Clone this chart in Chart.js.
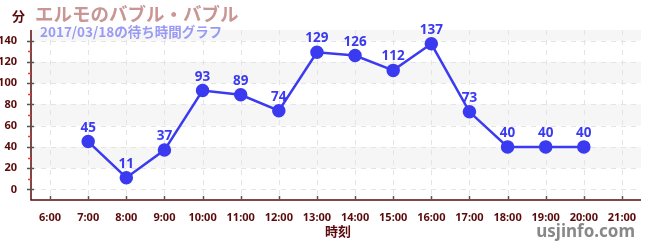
<!DOCTYPE html>
<html>
<head>
<meta charset="utf-8">
<script src="https://cdn.jsdelivr.net/npm/chart.js@4"></script>
<style>
  html, body { margin: 0; padding: 0; background: #fff; }
  #wrap { width: 650px; height: 250px; position: relative; }
</style>
</head>
<body>
<div id="wrap"><canvas id="waitChart"></canvas></div>
<script>
// データ
const HOURS   = [7, 8, 9, 10, 11, 12, 13, 14, 15, 16, 17, 18, 19, 20];
const WAITS   = [45, 11, 37, 93, 89, 74, 129, 126, 112, 137, 73, 40, 40, 40];
const X_TICKS = [6, 7, 8, 9, 10, 11, 12, 13, 14, 15, 16, 17, 18, 19, 20, 21];
const Y_TICKS = [0, 20, 40, 60, 80, 100, 120, 140];
const BANDS   = [[20, 40], [60, 80], [100, 120], [140, 150]];

const TITLE    = 'エルモのバブル・バブル';
const SUBTITLE = '2017/03/18の待ち時間グラフ';
const AXIS_COLOR = '#5a0a0a';
const LINE_COLOR = '#3a3af0';
const JP_FONT = "'Noto Sans CJK JP', 'Noto Sans', sans-serif";

// 背景の帯・目盛り・ラベル類
const decor = {
  id: 'decor',
  beforeDatasetsDraw(chart) {
    const { ctx, chartArea: a, scales: { x, y } } = chart;
    ctx.save();
    ctx.fillStyle = '#f6f6f6';
    BANDS.forEach(([lo, hi]) => {
      const y1 = y.getPixelForValue(hi), y2 = y.getPixelForValue(lo);
      ctx.fillRect(a.left, y1, a.right - a.left, y2 - y1);
    });
    // グリッド(点線)
    ctx.strokeStyle = '#e4e4e4';
    ctx.lineWidth = 1;
    ctx.setLineDash([5, 5]);
    X_TICKS.forEach(v => {
      const px = Math.round(x.getPixelForValue(v)) + 0.5;
      ctx.beginPath(); ctx.moveTo(px, a.top); ctx.lineTo(px, a.bottom); ctx.stroke();
    });
    Y_TICKS.forEach(v => {
      const py = Math.round(y.getPixelForValue(v)) + 0.5;
      ctx.beginPath(); ctx.moveTo(a.left, py); ctx.lineTo(a.right, py); ctx.stroke();
    });
    ctx.setLineDash([]);
    ctx.restore();
  },
  afterDatasetsDraw(chart) {
    const { ctx, chartArea: a, scales: { x, y } } = chart;
    ctx.save();
    // 軸線
    ctx.strokeStyle = AXIS_COLOR;
    ctx.lineWidth = 1.5;
    ctx.beginPath();
    ctx.moveTo(a.left, a.top); ctx.lineTo(a.left, a.bottom); ctx.lineTo(a.right, a.bottom);
    ctx.stroke();
    // 目盛り
    ctx.lineWidth = 1.5;
    ctx.strokeStyle = '#555';
    Y_TICKS.forEach(v => {
      const py = Math.round(y.getPixelForValue(v)) + 0.5;
      ctx.beginPath(); ctx.moveTo(a.left - 4, py); ctx.lineTo(a.left + 3, py); ctx.stroke();
    });
    ctx.strokeStyle = '#ee3333';
    for (let v = 10; v <= 140; v += 20) {
      const py = Math.round(y.getPixelForValue(v)) + 0.5;
      ctx.beginPath(); ctx.moveTo(a.left - 3, py); ctx.lineTo(a.left, py); ctx.stroke();
    }
    ctx.strokeStyle = '#555';
    X_TICKS.forEach(v => {
      const px = Math.round(x.getPixelForValue(v)) + 0.5;
      ctx.beginPath(); ctx.moveTo(px, a.bottom - 4); ctx.lineTo(px, a.bottom); ctx.stroke();
    });
    // 値ラベル
    ctx.fillStyle = LINE_COLOR;
    ctx.font = "bold 13.5px 'Noto Sans', sans-serif";
    ctx.textAlign = 'center';
    ctx.textBaseline = 'bottom';
    chart.getDatasetMeta(0).data.forEach((pt, i) => {
      ctx.fillText(String(WAITS[i]), pt.x, pt.y - 7);
    });
    // タイトル類
    ctx.textAlign = 'left';
    ctx.textBaseline = 'middle';
    ctx.fillStyle = '#c99595';
    ctx.font = 'bold 18.5px ' + JP_FONT;
    ctx.fillText(TITLE, 35, 14);
    ctx.fillStyle = '#9a9af5';
    ctx.font = 'bold 13.5px ' + JP_FONT;
    ctx.fillText(SUBTITLE, 40, 32);
    ctx.fillStyle = AXIS_COLOR;
    ctx.font = 'bold 13px ' + JP_FONT;
    ctx.fillText('分', 12, 16);
    ctx.textAlign = 'center';
    ctx.fillText('時刻', 338, 231);
    ctx.fillStyle = '#888';
    ctx.font = "bold 17px 'Noto Sans', sans-serif";
    ctx.textAlign = 'right';
    ctx.textBaseline = 'alphabetic';
    ctx.fillText('usjinfo.com', 635, 237);
    ctx.restore();
  },
};

new Chart(document.getElementById('waitChart'), {
  type: 'line',
  data: {
    datasets: [{
      data: HOURS.map((h, i) => ({ x: h, y: WAITS[i] })),
      borderColor: LINE_COLOR,
      backgroundColor: LINE_COLOR,
      borderWidth: 2.5,
      pointRadius: 5.5,
      pointHoverRadius: 5.5,
      tension: 0,
    }],
  },
  options: {
    responsive: true, maintainAspectRatio: false, animation: false,
    layout: { padding: { top: 30, right: 9, left: 0, bottom: 0 } },
    plugins: { legend: { display: false }, tooltip: { enabled: false } },
    scales: {
      x: {
        type: 'linear', min: 5.5, max: 21.5,
        afterBuildTicks: s => { s.ticks = X_TICKS.map(v => ({ value: v })); },
        afterFit: s => { s.height = 50; },
        grid: { display: false },
        border: { display: false },
        ticks: {
          color: AXIS_COLOR, padding: 3,
          font: { family: "'Noto Sans'", size: 11, weight: 'bold' },
          callback: v => v + ':00',
          maxRotation: 0, autoSkip: false,
        },
      },
      y: {
        min: -10, max: 150,
        afterBuildTicks: s => { s.ticks = Y_TICKS.map(v => ({ value: v })); },
        afterFit: s => { s.width = 31; },
        grid: { display: false },
        border: { display: false },
        ticks: {
          color: AXIS_COLOR, padding: 6,
          font: { family: "'Noto Sans'", size: 11, weight: 'bold' },
        },
      },
    },
  },
  plugins: [decor],
});
</script>
</body>
</html>
